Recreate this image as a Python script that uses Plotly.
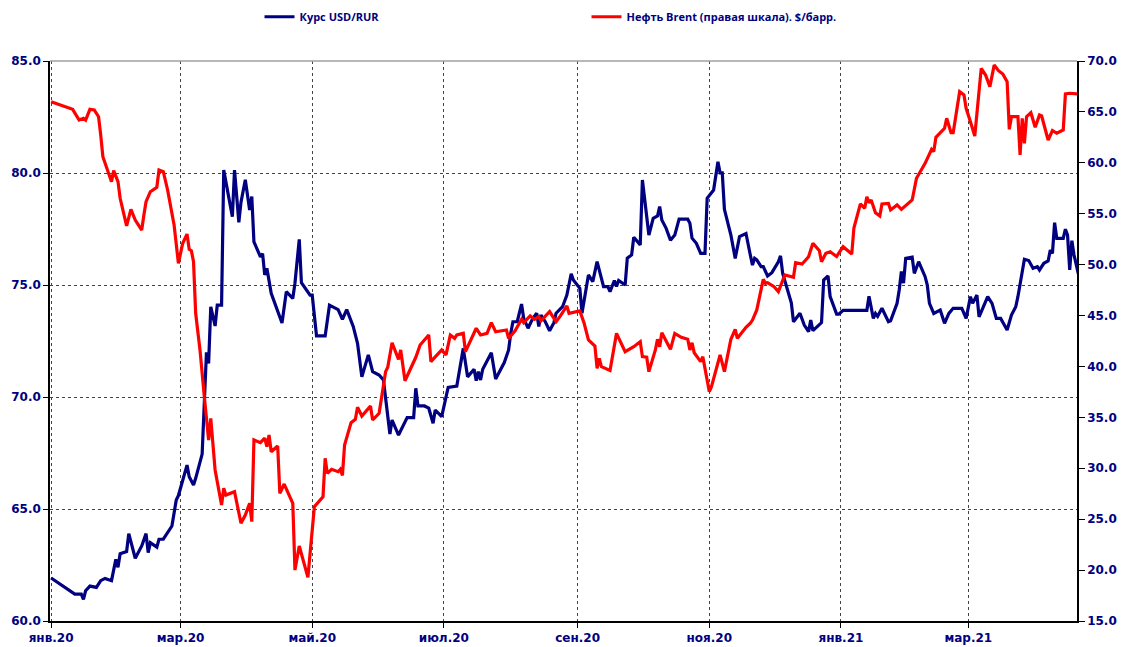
import plotly.graph_objects as go

# ---------------- data ----------------
usd_dates = [
    "2020-01-01", "2020-01-12", "2020-01-15", "2020-01-16", "2020-01-17", "2020-01-19", "2020-01-22", "2020-01-24", "2020-01-26", "2020-01-29", "2020-01-31",
    "2020-02-01", "2020-02-02", "2020-02-05", "2020-02-06", "2020-02-09", "2020-02-12", "2020-02-14", "2020-02-15", "2020-02-16", "2020-02-19", "2020-02-20", "2020-02-22", "2020-02-26", "2020-02-28", "2020-02-29",
    "2020-03-04", "2020-03-05", "2020-03-07", "2020-03-08", "2020-03-11", "2020-03-12", "2020-03-13", "2020-03-14", "2020-03-15", "2020-03-17", "2020-03-18", "2020-03-20", "2020-03-21", "2020-03-25", "2020-03-26", "2020-03-28", "2020-03-29", "2020-03-31",
    "2020-04-02", "2020-04-03", "2020-04-04", "2020-04-07", "2020-04-08", "2020-04-09", "2020-04-10", "2020-04-12", "2020-04-17", "2020-04-19", "2020-04-22", "2020-04-23", "2020-04-25", "2020-04-26", "2020-04-30",
    "2020-05-01", "2020-05-03", "2020-05-07", "2020-05-09", "2020-05-13", "2020-05-15", "2020-05-17", "2020-05-20", "2020-05-22", "2020-05-24", "2020-05-27", "2020-05-29",
    "2020-06-01", "2020-06-03", "2020-06-06", "2020-06-07", "2020-06-10", "2020-06-12", "2020-06-14", "2020-06-17", "2020-06-18", "2020-06-19", "2020-06-22", "2020-06-24", "2020-06-26", "2020-06-27", "2020-06-30",
    "2020-07-02", "2020-07-03", "2020-07-07", "2020-07-10", "2020-07-12", "2020-07-15", "2020-07-16", "2020-07-17", "2020-07-18", "2020-07-19", "2020-07-23", "2020-07-25", "2020-07-29", "2020-07-31",
    "2020-08-01", "2020-08-02", "2020-08-04", "2020-08-06", "2020-08-07", "2020-08-09", "2020-08-11", "2020-08-13", "2020-08-14", "2020-08-15", "2020-08-17", "2020-08-19", "2020-08-21", "2020-08-22", "2020-08-25", "2020-08-27", "2020-08-29", "2020-08-30",
    "2020-09-02", "2020-09-03", "2020-09-06", "2020-09-08", "2020-09-10", "2020-09-13", "2020-09-15", "2020-09-16", "2020-09-18", "2020-09-19", "2020-09-20", "2020-09-23", "2020-09-24", "2020-09-26", "2020-09-27", "2020-09-30",
    "2020-10-01", "2020-10-04", "2020-10-06", "2020-10-08", "2020-10-09", "2020-10-10", "2020-10-12", "2020-10-14", "2020-10-16", "2020-10-18", "2020-10-22", "2020-10-23", "2020-10-24", "2020-10-26", "2020-10-28", "2020-10-30", "2020-10-31",
    "2020-11-03", "2020-11-05", "2020-11-06", "2020-11-07", "2020-11-08", "2020-11-11", "2020-11-13", "2020-11-15", "2020-11-18", "2020-11-20", "2020-11-21", "2020-11-22", "2020-11-23", "2020-11-25", "2020-11-26", "2020-11-28", "2020-11-30",
    "2020-12-03", "2020-12-04", "2020-12-05", "2020-12-07", "2020-12-09", "2020-12-10", "2020-12-13", "2020-12-15", "2020-12-17", "2020-12-18", "2020-12-19", "2020-12-23", "2020-12-24", "2020-12-26", "2020-12-27", "2020-12-30", "2020-12-31",
    "2021-01-02", "2021-01-13", "2021-01-14", "2021-01-16", "2021-01-17", "2021-01-18", "2021-01-20", "2021-01-23", "2021-01-24", "2021-01-27", "2021-01-28", "2021-01-29", "2021-01-30", "2021-01-31",
    "2021-02-03", "2021-02-04", "2021-02-06", "2021-02-09", "2021-02-10", "2021-02-11", "2021-02-13", "2021-02-16", "2021-02-18", "2021-02-20", "2021-02-22", "2021-02-26", "2021-02-28",
    "2021-03-02", "2021-03-03", "2021-03-05", "2021-03-06", "2021-03-10", "2021-03-12", "2021-03-14", "2021-03-16", "2021-03-19", "2021-03-21", "2021-03-23", "2021-03-24", "2021-03-27", "2021-03-29", "2021-03-31",
    "2021-04-02", "2021-04-03", "2021-04-05", "2021-04-07", "2021-04-08", "2021-04-09", "2021-04-10", "2021-04-11", "2021-04-14", "2021-04-15", "2021-04-16", "2021-04-17", "2021-04-18", "2021-04-19", "2021-04-21",
]
usd_rate = [
    61.92, 61.2, 61.2, 60.97, 61.35, 61.56, 61.5, 61.8, 61.9, 61.8, 62.75,
    62.4, 63.0, 63.1, 63.9, 62.8, 63.35, 63.9, 63.05, 63.5, 63.3, 63.65, 63.65, 64.24, 65.4, 65.6,
    66.96, 66.44, 66.07, 66.37, 67.45, 70.16, 72.0, 71.5, 74.03, 73.17, 74.1, 74.1, 80.13, 78.05, 80.13, 77.8, 78.7, 79.7,
    78.35, 78.95, 76.93, 76.26, 76.4, 75.45, 75.75, 74.63, 73.3, 74.7, 74.4, 75.08, 77.04, 75.1, 74.55,
    74.55, 72.73, 72.73, 74.1, 73.9, 73.47, 73.9, 73.15, 72.4, 70.9, 71.88, 71.13,
    70.98, 70.76, 68.35, 68.97, 68.3, 68.67, 69.08, 69.08, 70.39, 69.6, 69.6, 69.5, 68.83, 69.42, 69.12,
    70.0, 70.43, 70.49, 72.17, 70.9, 71.24, 70.73, 71.13, 70.76, 71.24, 71.98, 70.8, 71.54, 72.1,
    72.85, 73.36, 73.36, 74.15, 73.51, 73.07, 73.47, 73.74, 73.15, 73.66, 73.36, 72.96, 73.32, 73.74, 74.03, 74.55, 75.5, 75.22,
    74.85, 73.74, 75.45, 75.15, 76.04, 74.93, 74.93, 74.7, 75.2, 74.93, 75.2, 75.0, 76.2, 76.34, 77.13, 76.79,
    79.69, 77.23, 77.98, 78.08, 78.5, 77.9, 77.53, 77.0, 77.23, 77.94, 77.94, 77.76, 77.09, 76.86, 76.41, 76.41, 78.87,
    79.24, 80.5, 80.01, 80.01, 78.38, 77.23, 76.19, 77.16, 77.3, 76.34, 75.89, 76.19, 76.12, 75.82, 75.82, 75.4, 75.55,
    76.04, 76.3, 75.52, 74.85, 74.2, 73.36, 73.74, 73.21, 72.92, 73.44, 72.96, 73.32, 75.22, 75.4, 74.48, 73.7, 73.7,
    73.87, 73.87, 74.5, 73.51, 73.73, 73.6, 73.96, 73.36, 73.4, 74.18, 74.78, 75.6, 75.08, 76.19,
    76.24, 75.52, 76.04, 75.37, 75.0, 74.18, 73.73, 73.88, 73.29, 73.73, 73.96, 73.96, 73.51,
    74.48, 74.18, 74.55, 73.58, 74.48, 74.18, 73.51, 73.51, 72.99, 73.66, 74.03, 74.48, 76.15, 76.09, 75.75,
    75.82, 75.67, 75.97, 76.07, 76.56, 76.41, 77.78, 77.08, 77.08, 77.49, 77.23, 75.67, 76.98, 76.34, 75.49,
]

brent_dates = [
    "2020-01-01", "2020-01-11", "2020-01-14", "2020-01-16", "2020-01-17", "2020-01-19", "2020-01-21", "2020-01-23", "2020-01-24", "2020-01-25", "2020-01-29", "2020-01-30",
    "2020-02-01", "2020-02-02", "2020-02-05", "2020-02-07", "2020-02-09", "2020-02-12", "2020-02-13", "2020-02-14", "2020-02-16", "2020-02-19", "2020-02-20", "2020-02-22", "2020-02-24", "2020-02-27", "2020-02-29",
    "2020-03-02", "2020-03-04", "2020-03-05", "2020-03-06", "2020-03-07", "2020-03-08", "2020-03-10", "2020-03-12", "2020-03-14", "2020-03-15", "2020-03-17", "2020-03-20", "2020-03-21", "2020-03-22", "2020-03-26", "2020-03-29", "2020-03-31",
    "2020-04-02", "2020-04-03", "2020-04-04", "2020-04-07", "2020-04-09", "2020-04-10", "2020-04-11", "2020-04-12", "2020-04-15", "2020-04-16", "2020-04-18", "2020-04-22", "2020-04-23", "2020-04-25", "2020-04-29",
    "2020-05-01", "2020-05-02", "2020-05-06", "2020-05-07", "2020-05-08", "2020-05-10", "2020-05-13", "2020-05-14", "2020-05-15", "2020-05-16", "2020-05-19", "2020-05-21", "2020-05-22", "2020-05-24", "2020-05-28", "2020-05-29",
    "2020-06-01", "2020-06-04", "2020-06-05", "2020-06-07", "2020-06-10", "2020-06-11", "2020-06-13", "2020-06-16", "2020-06-18", "2020-06-20", "2020-06-24", "2020-06-25", "2020-06-27", "2020-06-30",
    "2020-07-02", "2020-07-04", "2020-07-06", "2020-07-07", "2020-07-10", "2020-07-11", "2020-07-16", "2020-07-18", "2020-07-21", "2020-07-23", "2020-07-25", "2020-07-30", "2020-07-31",
    "2020-08-03", "2020-08-06", "2020-08-07", "2020-08-10", "2020-08-12", "2020-08-14", "2020-08-15", "2020-08-19", "2020-08-22", "2020-08-24", "2020-08-27", "2020-08-28",
    "2020-09-02", "2020-09-04", "2020-09-06", "2020-09-09", "2020-09-10", "2020-09-11", "2020-09-12", "2020-09-16", "2020-09-19", "2020-09-23", "2020-09-27", "2020-09-30",
    "2020-10-01", "2020-10-03", "2020-10-04", "2020-10-07", "2020-10-08", "2020-10-09", "2020-10-10", "2020-10-14", "2020-10-16", "2020-10-19", "2020-10-22", "2020-10-23", "2020-10-24", "2020-10-25", "2020-10-28", "2020-10-29",
    "2020-11-01", "2020-11-02", "2020-11-04", "2020-11-06", "2020-11-08", "2020-11-11", "2020-11-13", "2020-11-14", "2020-11-18", "2020-11-20", "2020-11-21", "2020-11-23", "2020-11-26", "2020-11-27", "2020-11-28",
    "2020-12-01", "2020-12-03", "2020-12-06", "2020-12-10", "2020-12-11", "2020-12-14", "2020-12-17", "2020-12-19", "2020-12-22", "2020-12-23", "2020-12-25", "2020-12-27", "2020-12-30",
    "2021-01-02", "2021-01-06", "2021-01-07", "2021-01-10", "2021-01-12", "2021-01-13", "2021-01-14", "2021-01-15", "2021-01-17", "2021-01-19", "2021-01-20", "2021-01-23", "2021-01-24", "2021-01-27", "2021-01-29",
    "2021-02-03", "2021-02-05", "2021-02-09", "2021-02-12", "2021-02-13", "2021-02-14", "2021-02-16", "2021-02-18", "2021-02-19", "2021-02-21", "2021-02-22", "2021-02-24", "2021-02-25", "2021-02-27", "2021-02-28",
    "2021-03-02", "2021-03-04", "2021-03-07", "2021-03-09", "2021-03-11", "2021-03-13", "2021-03-15", "2021-03-17", "2021-03-19", "2021-03-20", "2021-03-21", "2021-03-24", "2021-03-25", "2021-03-26", "2021-03-27", "2021-03-28", "2021-03-30",
    "2021-04-01", "2021-04-03", "2021-04-04", "2021-04-07", "2021-04-09", "2021-04-11", "2021-04-14", "2021-04-15", "2021-04-17", "2021-04-21",
]
brent_price = [
    66.0, 65.25, 64.2, 64.37, 64.2, 65.25, 65.19, 64.53, 62.73, 60.6, 58.15, 59.23,
    58.15, 56.52, 53.8, 55.43, 54.38, 53.4, 54.87, 56.18, 57.16, 57.6, 59.3, 59.13, 57.33, 53.9, 50.13,
    52.1, 53.0, 51.5, 51.37, 50.29, 45.22, 41.62, 37.03, 32.78, 34.9, 29.83, 26.4, 28.03, 27.37, 27.7, 24.6, 25.41,
    26.56, 24.76, 32.78, 32.52, 32.95, 32.12, 33.27, 31.63, 32.19, 27.54, 28.45, 26.56, 20.0, 22.37, 19.29,
    24.1, 26.23, 27.2, 30.98, 29.5, 29.9, 29.66, 29.9, 29.3, 32.29, 34.48, 34.81, 36.0, 35.13, 36.11, 34.74,
    35.4, 39.49, 39.92, 42.33, 40.7, 41.62, 38.6, 39.92, 40.9, 42.1, 43.09, 40.47, 40.96, 41.62,
    41.13, 43.09, 42.76, 43.09, 43.25, 41.45, 43.75, 43.09, 43.25, 44.3, 43.41, 43.58, 42.76,
    43.5, 44.63, 44.3, 44.96, 44.63, 44.9, 44.49, 45.38, 44.4, 44.96, 45.94, 45.22,
    45.45, 44.24, 42.6, 42.0, 39.82, 40.8, 39.98, 39.6, 43.25, 41.45, 41.94, 42.43,
    40.96, 40.9, 39.49, 41.62, 42.67, 41.94, 43.3, 41.68, 43.25, 42.86, 42.67, 41.62, 42.33, 41.35, 40.47, 40.96,
    37.52, 38.01, 39.49, 41.13, 39.49, 42.67, 43.65, 42.76, 43.85, 44.24, 44.56, 45.55, 48.56, 48.17, 48.23,
    47.84, 47.35, 48.98, 48.76, 50.19, 50.06, 50.78, 52.1, 51.37, 50.29, 51.11, 51.27, 50.8,
    51.76, 51.04, 53.6, 55.96, 55.53, 56.67, 56.09, 56.35, 55.1, 54.78, 55.96, 56.02, 55.37, 55.86, 55.43,
    56.35, 58.48, 59.95, 61.33, 61.1, 62.5, 62.96, 63.39, 64.37, 62.96, 62.96, 65.35, 66.98, 66.66, 65.35,
    64.04, 62.63, 69.28, 68.62, 67.48, 69.6, 69.05, 68.72, 67.97, 63.29, 64.53, 64.53, 60.77, 64.37, 61.92, 64.53, 64.92,
    63.49, 64.7, 64.6, 62.24, 63.16, 62.9, 63.22, 66.76, 66.83, 66.76,
]

month_ticks = ["2020-01-01", "2020-03-01", "2020-05-01", "2020-07-01",
               "2020-09-01", "2020-11-01", "2021-01-01", "2021-03-01"]
month_labels = ["янв.20", "мар.20", "май.20", "июл.20",
                "сен.20", "ноя.20", "янв.21", "мар.21"]

usd_name = "Курс USD/RUR"
brent_name = "Нефть Brent (правая шкала). $/барр."

# ---------------- figure ----------------
NAVY = "#000080"
tick_font = dict(family="DejaVu Sans", size=12, color=NAVY, weight="bold")

fig = go.Figure()
fig.add_trace(go.Scatter(x=usd_dates, y=usd_rate, name=usd_name, mode="lines",
                         line=dict(color=NAVY, width=3.2), yaxis="y"))
fig.add_trace(go.Scatter(x=brent_dates, y=brent_price, name=brent_name, mode="lines",
                         line=dict(color="#FF0000", width=3.2), yaxis="y2"))

# the page adds an 8px body margin, so the figure is sized to fit inside it
fig.update_layout(
    width=1120, height=639,
    margin=dict(l=42, r=51, t=53, b=26, autoexpand=False),
    paper_bgcolor="white", plot_bgcolor="white",
    showlegend=True,
    legend=dict(orientation="h", x=0.204, xanchor="left", y=1.079, yanchor="middle",
                font=dict(family="Open Sans", size=11, color=NAVY, weight="bold"),
                entrywidth=282, entrywidthmode="pixels",
                bgcolor="rgba(0,0,0,0)", itemwidth=30),
    xaxis=dict(type="date", range=["2019-12-31 12:00", "2021-04-20 09:00"],
               tickmode="array", tickvals=month_ticks, ticktext=month_labels,
               showgrid=True, gridcolor="#444444", griddash="dot", gridwidth=1,
               ticks="outside", ticklen=5, tickcolor="black",
               showline=True, linecolor="black", linewidth=1.5,
               tickfont=tick_font, zeroline=False, automargin=False),
    yaxis=dict(range=[60, 85], dtick=5, tick0=60, tickformat=".1f",
               showgrid=True, gridcolor="#444444", griddash="dot", gridwidth=1,
               ticks="outside", ticklen=5, tickcolor="black",
               showline=True, linecolor="black", linewidth=1.5,
               tickfont=tick_font, zeroline=False, automargin=False),
    yaxis2=dict(range=[15, 70], dtick=5, tick0=15, tickformat=".1f",
                overlaying="y", side="right", showgrid=False,
                ticks="outside", ticklen=6, tickcolor="black",
                showline=True, linecolor="black", linewidth=1.5,
                tickfont=tick_font, zeroline=False, automargin=False),
    shapes=[dict(type="line", xref="paper", yref="paper", x0=0, x1=1, y0=1, y1=1,
                 line=dict(color="#A0A0A0", width=1.5), layer="above")],
)

fig.write_html("out.html")
